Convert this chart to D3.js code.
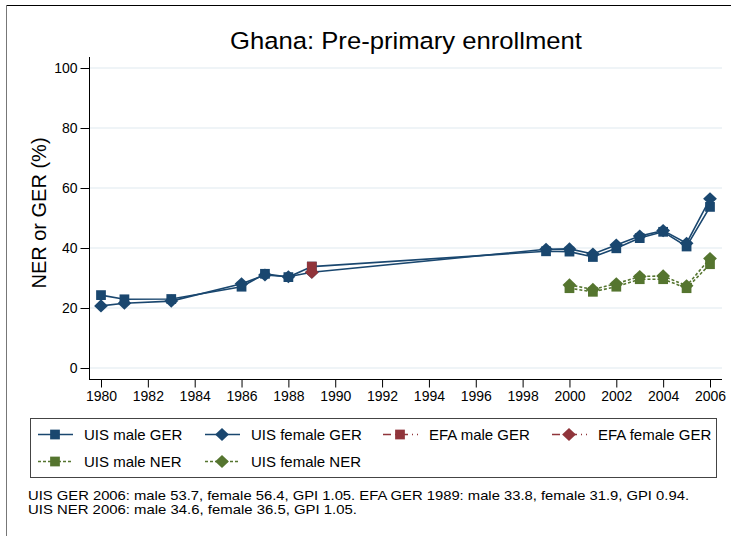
<!DOCTYPE html>
<meta charset="utf-8">
<script src="https://d3js.org/d3.v7.min.js"></script>
<style>
  body { margin: 0; background: #fff; }
  text { font-family: "Liberation Sans", Arial, sans-serif; }
</style>
<svg id="chart" width="731" height="536"></svg>
<script>

// years and values
const gerYears = [1980, 1981, 1983, 1986, 1987, 1988, 1989, 1999, 2000, 2001, 2002, 2003, 2004, 2005, 2006];
const uisMaleGer = [24.3, 22.9, 23.0, 27.1, 31.4, 30.3, 33.8, 38.9, 38.8, 37.0, 39.9, 43.3, 45.4, 40.5, 53.7];
const uisFemaleGer = [20.7, 21.6, 22.3, 28.1, 31.0, 30.4, 31.9, 39.6, 39.7, 38.0, 41.0, 44.0, 45.8, 41.6, 56.4];

const efaYears = [1989];
const efaMaleGer = [33.8];
const efaFemaleGer = [31.9];

const nerYears = [2000, 2001, 2002, 2003, 2004, 2005, 2006];
const uisMaleNer = [26.6, 25.4, 27.1, 29.6, 29.6, 26.6, 34.6];
const uisFemaleNer = [27.7, 26.2, 28.1, 30.5, 30.7, 27.4, 36.5];

const xTicks = d3.range(1980, 2007, 2);
const yTicks = [0, 20, 40, 60, 80, 100];

const navy = "#1a476f", maroon = "#90353b", green = "#55752f";

const svg = d3.select("#chart");

// frame (top and left edges are visible in the original)
svg.append("line").attr("x1", 6).attr("x2", 731).attr("y1", 5.5).attr("y2", 5.5)
  .attr("stroke", "#000").attr("stroke-width", 1);
svg.append("line").attr("x1", 6.5).attr("x2", 6.5).attr("y1", 5).attr("y2", 536)
  .attr("stroke", "#777").attr("stroke-width", 1);

const x = d3.scaleLinear().domain([1980, 2006]).range([101, 710]);
const y = d3.scaleLinear().domain([0, 100]).range([368, 68]);

// title
svg.append("text")
  .attr("x", 230).attr("y", 49)
  .attr("font-size", 24.5)
  .attr("textLength", 352)
  .attr("lengthAdjust", "spacingAndGlyphs")
  .attr("fill", "#000")
  .text("Ghana: Pre-primary enrollment");

// grid
svg.append("g")
  .selectAll("line")
  .data(yTicks)
  .join("line")
    .attr("x1", 90).attr("x2", 722)
    .attr("y1", d => y(d)).attr("y2", d => y(d))
    .attr("stroke", "#eaf1f5").attr("stroke-width", 1.5);

// y axis
const yAxis = svg.append("g")
  .attr("transform", "translate(89.5,0)")
  .call(d3.axisLeft(y).tickValues(yTicks).tickSize(9).tickPadding(3).tickSizeOuter(0));
yAxis.select(".domain").attr("d", "M0,57V379.5");
yAxis.selectAll("text").attr("font-size", 14).attr("fill", "#000")
  .style("font-family", "Liberation Sans, Arial, sans-serif");

// x axis
const xAxis = svg.append("g")
  .attr("transform", "translate(0,379.5)")
  .call(d3.axisBottom(x).tickValues(xTicks).tickFormat(d3.format("d")).tickSize(8).tickPadding(4).tickSizeOuter(0));
xAxis.select(".domain").attr("d", "M89,0H722");
xAxis.selectAll("text").attr("font-size", 14).attr("fill", "#000")
  .style("font-family", "Liberation Sans, Arial, sans-serif");

// y label
svg.append("text")
  .attr("transform", "translate(46,213) rotate(-90)")
  .attr("text-anchor", "middle")
  .attr("font-size", 20)
  .text("NER or GER (%)");

const series = [
  { name: "UIS male GER", years: gerYears, vals: uisMaleGer, color: navy, dash: null, shape: "square" },
  { name: "UIS female GER", years: gerYears, vals: uisFemaleGer, color: navy, dash: null, shape: "diamond" },
  { name: "EFA male GER", years: efaYears, vals: efaMaleGer, color: maroon, dash: "8,4,1,4", shape: "square" },
  { name: "EFA female GER", years: efaYears, vals: efaFemaleGer, color: maroon, dash: "8,4,1,4", shape: "diamond" },
  { name: "UIS male NER", years: nerYears, vals: uisMaleNer, color: green, dash: "3,2", shape: "square" },
  { name: "UIS female NER", years: nerYears, vals: uisFemaleNer, color: green, dash: "3,2", shape: "diamond" }
];

const symSquare = d3.symbol().type(d3.symbolSquare).size(95);
const symDiamond = d3.symbol().type(d3.symbolDiamond2).size(110);
function drawMarker(g, shape, color) {
  if (shape === "square") {
    g.append("path").attr("d", symSquare()).attr("fill", color);
  } else {
    g.append("path").attr("d", symDiamond()).attr("fill", color).attr("transform", "scale(1.05,1)");
  }
}

const line = d3.line().x(d => x(d[0])).y(d => y(d[1]));
series.forEach(s => {
  const pts = s.years.map((yr, i) => [yr, s.vals[i]]);
  if (pts.length > 1) {
    svg.append("path")
      .datum(pts)
      .attr("d", line)
      .attr("fill", "none")
      .attr("stroke", s.color)
      .attr("stroke-width", 1.6)
      .attr("stroke-dasharray", s.dash);
  }
});
series.forEach(s => {
  s.years.forEach((yr, i) => {
    const g = svg.append("g").attr("transform", `translate(${x(yr)},${y(s.vals[i])})`);
    drawMarker(g, s.shape, s.color);
  });
});

// legend
const legend = svg.append("g");
legend.append("rect")
  .attr("x", 30.5).attr("y", 418.5).attr("width", 686).attr("height", 59)
  .attr("fill", "none").attr("stroke", "#444").attr("stroke-width", 1);

const colX = [38, 205, 383, 552];
const rowY = [434.5, 461.5];
series.forEach((s, i) => {
  const cx = colX[i % 4], cy = rowY[Math.floor(i / 4)];
  const g = legend.append("g");
  g.append("line")
    .attr("x1", cx).attr("x2", cx + 35)
    .attr("y1", cy).attr("y2", cy)
    .attr("stroke", s.color).attr("stroke-width", 1.6)
    .attr("stroke-dasharray", s.dash);
  const m = g.append("g").attr("transform", `translate(${cx + 17},${cy})`);
  drawMarker(m, s.shape, s.color);
  g.append("text")
    .attr("x", cx + 46).attr("y", cy + 5.5)
    .attr("font-size", 15)
    .text(s.name);
});

// notes
const notes = [
  "UIS GER 2006: male 53.7, female 56.4, GPI 1.05. EFA GER 1989: male 33.8, female 31.9, GPI 0.94.",
  "UIS NER 2006: male 34.6, female 36.5, GPI 1.05."
];
const noteWidths = [661, 329];
svg.append("g").selectAll("text")
  .data(notes)
  .join("text")
    .attr("x", 28).attr("y", (d, i) => 499.5 + i * 14.5)
    .attr("font-size", 12.6)
    .attr("textLength", (d, i) => noteWidths[i])
    .attr("lengthAdjust", "spacingAndGlyphs")
    .text(d => d);

</script>
